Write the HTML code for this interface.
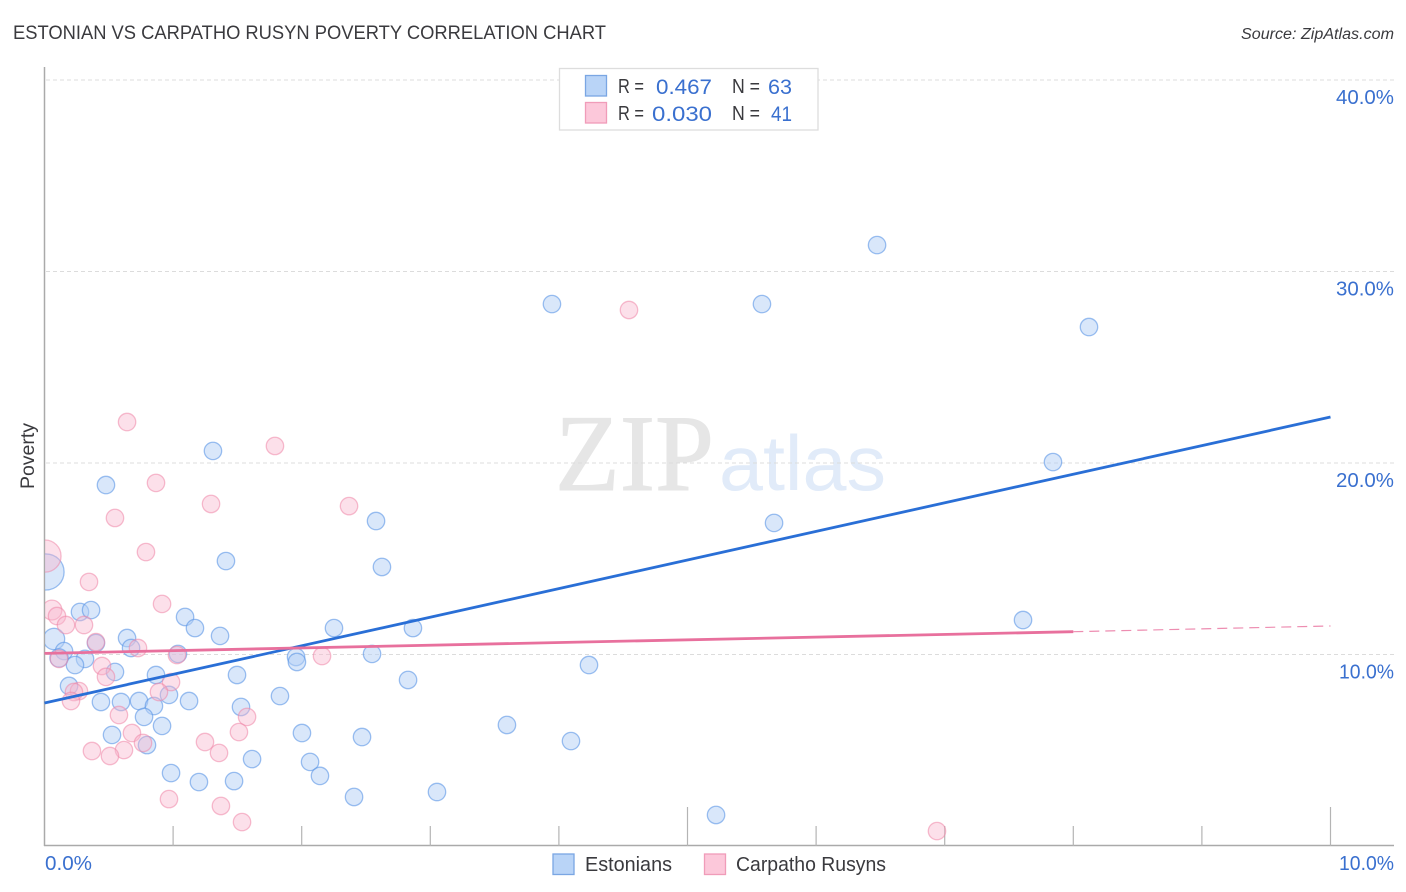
<!DOCTYPE html>
<html lang="en">
<head>
<meta charset="utf-8">
<title>Estonian vs Carpatho Rusyn Poverty Correlation Chart</title>
<style>
html,body{margin:0;padding:0;background:#fff;width:1406px;height:892px;overflow:hidden}
svg{display:block;font-family:"Liberation Sans",sans-serif}
</style>
</head>
<body>
<svg id="chart" xmlns="http://www.w3.org/2000/svg" width="1406" height="892" viewBox="0 0 1406 892">
  <defs>
    <clipPath id="plot-clip"><rect x="45" y="60" width="1350" height="786"></rect></clipPath>
  </defs>
  <rect x="0" y="0" width="1406" height="892" fill="#ffffff"></rect>
  <text x="13" y="39" font-size="19" fill="#3a3a3e" textLength="593" lengthAdjust="spacingAndGlyphs">ESTONIAN VS CARPATHO RUSYN POVERTY CORRELATION CHART</text>
  <text x="1241" y="39" font-size="15.5" font-style="italic" fill="#3a3a3e" textLength="153" lengthAdjust="spacingAndGlyphs">Source: ZipAtlas.com</text>
  <g>
    <text x="555" y="490" font-family="'Liberation Serif',serif" font-size="109" fill="#e6e6e6" stroke="#e6e6e6" stroke-width="1" textLength="159" lengthAdjust="spacingAndGlyphs">ZIP</text>
    <text x="719" y="490" font-size="78" fill="#e1ebf9" textLength="167" lengthAdjust="spacingAndGlyphs">atlas</text>
  </g>
  <g id="grid"></g>
  <g id="axes"></g>
  <g id="marks" clip-path="url(#plot-clip)"></g>
  <g id="trends"></g>
  <text transform="translate(34,456) rotate(-90)" text-anchor="middle" font-size="19.5" fill="#3a3a3e">Poverty</text>

  <g>
    <rect x="559.5" y="68.5" width="258.5" height="61.5" fill="#ffffff" stroke="#dddddd" stroke-width="1.3"></rect>
    <rect x="585.5" y="75.5" width="21" height="20.5" fill="#b9d4f7" stroke="#7aa6e3" stroke-width="1.3"></rect>
    <rect x="585.5" y="102.5" width="21" height="20.5" fill="#fcc8da" stroke="#f09cb9" stroke-width="1.3"></rect>
    <text x="618" y="93" font-size="20" fill="#3a3a3e" textLength="26" lengthAdjust="spacingAndGlyphs">R =</text>
    <text x="656" y="94" font-size="21" fill="#3a70cf" textLength="56" lengthAdjust="spacingAndGlyphs">0.467</text>
    <text x="732" y="93" font-size="20" fill="#3a3a3e" textLength="28" lengthAdjust="spacingAndGlyphs">N =</text>
    <text x="768" y="94" font-size="21" fill="#3a70cf" textLength="24" lengthAdjust="spacingAndGlyphs">63</text>
    <text x="618" y="120" font-size="20" fill="#3a3a3e" textLength="26" lengthAdjust="spacingAndGlyphs">R =</text>
    <text x="652" y="121" font-size="21" fill="#3a70cf" textLength="60" lengthAdjust="spacingAndGlyphs">0.030</text>
    <text x="732" y="120" font-size="20" fill="#3a3a3e" textLength="28" lengthAdjust="spacingAndGlyphs">N =</text>
    <text x="771" y="121" font-size="21" fill="#3a70cf" textLength="21" lengthAdjust="spacingAndGlyphs">41</text>
  </g>

  <g>
    <rect x="553" y="854" width="21" height="20.5" fill="#b9d4f7" stroke="#7aa6e3" stroke-width="1.3"></rect>
    <text x="585" y="871" font-size="20" fill="#3a3a3e" textLength="87" lengthAdjust="spacingAndGlyphs">Estonians</text>
    <rect x="704.5" y="854" width="21" height="20.5" fill="#fcc8da" stroke="#f09cb9" stroke-width="1.3"></rect>
    <text x="736" y="871" font-size="20" fill="#3a3a3e" textLength="150" lengthAdjust="spacingAndGlyphs">Carpatho Rusyns</text>
  </g>
</svg>
<script>
const yTickValues = [10, 20, 30, 40];
const yTickLabels = ["10.0%", "20.0%", "30.0%", "40.0%"];
const xTickValues = [1, 2, 3, 4, 5, 6, 7, 8, 9, 10];
const xMajorTicks = [5, 10];
const xEndValues = [0, 10];
const xEndLabels = ["0.0%", "10.0%"];

const estonianX = [6.474,3.946,5.579,8.122,7.842,1.310,0.478,2.578,5.673,1.411,2.624,0.012,0.276,0.362,1.093,1.170,0.642,1.365,0.074,2.251,2.865,7.609,0.400,0.673,0.152,0.113,1.038,0.315,0.237,1.956,1.963,2.547,4.234,0.548,0.867,1.497,2.827,0.191,0.968,1.831,0.439,0.595,0.735,1.124,0.851,1.528,0.774,0.914,3.596,0.525,2.002,2.469,4.094,0.797,1.614,2.065,0.984,1.201,1.474,2.142,2.407,3.052,5.222];
const estonianY = [31.38,28.30,28.30,27.10,20.05,20.63,18.85,16.97,16.87,14.88,14.57,14.31,12.22,12.32,11.96,11.38,10.86,10.97,10.81,11.38,11.38,11.80,10.60,10.34,10.18,9.82,10.03,9.77,9.45,9.87,9.61,10.03,9.45,9.09,8.93,8.93,8.67,8.36,7.89,7.83,7.52,7.52,7.57,7.57,7.31,7.26,6.74,6.27,6.32,5.80,5.90,5.69,5.48,5.27,4.54,4.39,3.81,3.34,3.39,3.66,2.56,2.82,1.62];
const estonianWeight = [1,1,1,1,1,1,1,1,1,1,1,4.3,1,1,1,1,1,1,1.5,1,1,1,1,1,1,1.1,1,1,1,1,1,1,1,1,1,1,1,1,1,1,1,1,1,1,1,1,1,1,1,1,1,1,1,1,1,1,1,1,1,1,1,1,1];

const rusynX = [4.545,0.642,1.792,0.867,1.295,2.368,0.548,0.789,0.004,0.346,0.914,0.058,0.097,0.167,0.307,0.400,0.727,1.030,2.158,0.113,0.447,0.478,0.984,0.890,0.268,0.229,0.206,0.579,1.575,0.680,1.512,0.766,1.248,1.357,0.369,0.618,0.509,0.968,1.372,1.536,6.940];
const rusynY = [27.99,22.14,20.89,18.96,17.86,17.75,17.13,15.35,15.14,13.79,12.64,12.32,12.01,11.54,11.54,10.65,10.34,9.97,9.92,9.77,9.40,8.83,8.56,8.04,8.09,8.04,7.57,6.84,6.74,5.90,5.95,5.38,5.43,4.86,4.96,5.01,4.70,2.45,2.09,1.25,0.78];
const rusynWeight = [1,1,1,1,1,1,1,1,3.4,1,1,1.3,1,1,1,1,1,1,1,1,1,1,1,1,1,1,1,1,1,1,1,1,1,1,1,1,1,1,1,1,1];

const estonianTrendX = [0, 10];
const estonianTrendY = [7.47, 22.40];
const rusynTrendX = [0, 8];
const rusynTrendY = [10.06, 11.19];
const rusynExtendX = [8, 10];
const rusynExtendY = [11.19, 11.49];

const NS = "http://www.w3.org/2000/svg";
const xScale = v => 44.5 + v * 128.6;
const yScale = v => 846 - v * 19.15;
const rScale = w => 8.7 * Math.sqrt(w);

function make(parent, tag, attrs) {
  const el = document.createElementNS(NS, tag);
  for (const k in attrs) el.setAttribute(k, attrs[k]);
  parent.appendChild(el);
  return el;
}

const grid = document.getElementById("grid");
const axes = document.getElementById("axes");
const marks = document.getElementById("marks");
const trends = document.getElementById("trends");

yTickValues.forEach((v, i) => {
  const line = make(grid, "line", {x1: 46, x2: 1394, y1: yScale(v), y2: yScale(v), stroke: "#dcdcdc", "stroke-width": 1, "stroke-dasharray": "4 3"});
  
  
  const label = make(axes, "text", {x: 1394, y: yScale(v) + 24, "text-anchor": "end", "font-size": 20.5, fill: "#3a70cf", textLength: yTickLabels[i].charAt(0) === "1" ? 55 : 58, lengthAdjust: "spacingAndGlyphs"});
  label.textContent = yTickLabels[i];
  
  
});

const yAxis = make(axes, "line", {x1: 44.5, x2: 44.5, y1: 67, y2: 846, stroke: "#aaaaaa", "stroke-width": 1.5});


const xAxis = make(axes, "line", {x1: 44, x2: 1394, y1: 845.5, y2: 845.5, stroke: "#aaaaaa", "stroke-width": 1.5});



xTickValues.forEach(v => {
  const top = xMajorTicks.includes(v) ? 807 : 826;
  const tick = make(axes, "line", {x1: xScale(v), x2: xScale(v), y1: top, y2: 846, stroke: "#b4b4b4", "stroke-width": 1.2});
  
  
});

xEndValues.forEach((v, i) => {
  const anchor = i === 0 ? "start" : "end";
  const px = i === 0 ? xScale(v) + 0.5 : 1394;
  const label = make(axes, "text", {x: px, y: 870, "text-anchor": anchor, "font-size": 20.5, fill: "#3a70cf", textLength: i === 0 ? 47 : 55, lengthAdjust: "spacingAndGlyphs"});
  label.textContent = xEndLabels[i];
  
  
});

estonianX.forEach((v, i) => {
  const c = make(marks, "circle", {cx: xScale(v), cy: yScale(estonianY[i]), r: rScale(estonianWeight[i]), fill: "#b3d0f5", "fill-opacity": 0.5, stroke: "#5b96e6", "stroke-opacity": 0.6, "stroke-width": 1.3});
  
  
});

rusynX.forEach((v, i) => {
  const c = make(marks, "circle", {cx: xScale(v), cy: yScale(rusynY[i]), r: rScale(rusynWeight[i]), fill: "#f9b6cc", "fill-opacity": 0.42, stroke: "#ee86a8", "stroke-opacity": 0.55, "stroke-width": 1.3});
  
  
});

const rusynDash = make(trends, "line", {x1: xScale(rusynExtendX[0]), y1: yScale(rusynExtendY[0]), x2: xScale(rusynExtendX[1]), y2: yScale(rusynExtendY[1]), stroke: "#e8709d", "stroke-width": 1.2, "stroke-opacity": 0.8, "stroke-dasharray": "10 6"});



const estonianLine = make(trends, "line", {x1: xScale(estonianTrendX[0]), y1: yScale(estonianTrendY[0]), x2: xScale(estonianTrendX[1]), y2: yScale(estonianTrendY[1]), stroke: "#2a6fd6", "stroke-width": 2.8});



const rusynLine = make(trends, "line", {x1: xScale(rusynTrendX[0]), y1: yScale(rusynTrendY[0]), x2: xScale(rusynTrendX[1]), y2: yScale(rusynTrendY[1]), stroke: "#e8709d", "stroke-width": 2.8});


</script>
</body>
</html>
